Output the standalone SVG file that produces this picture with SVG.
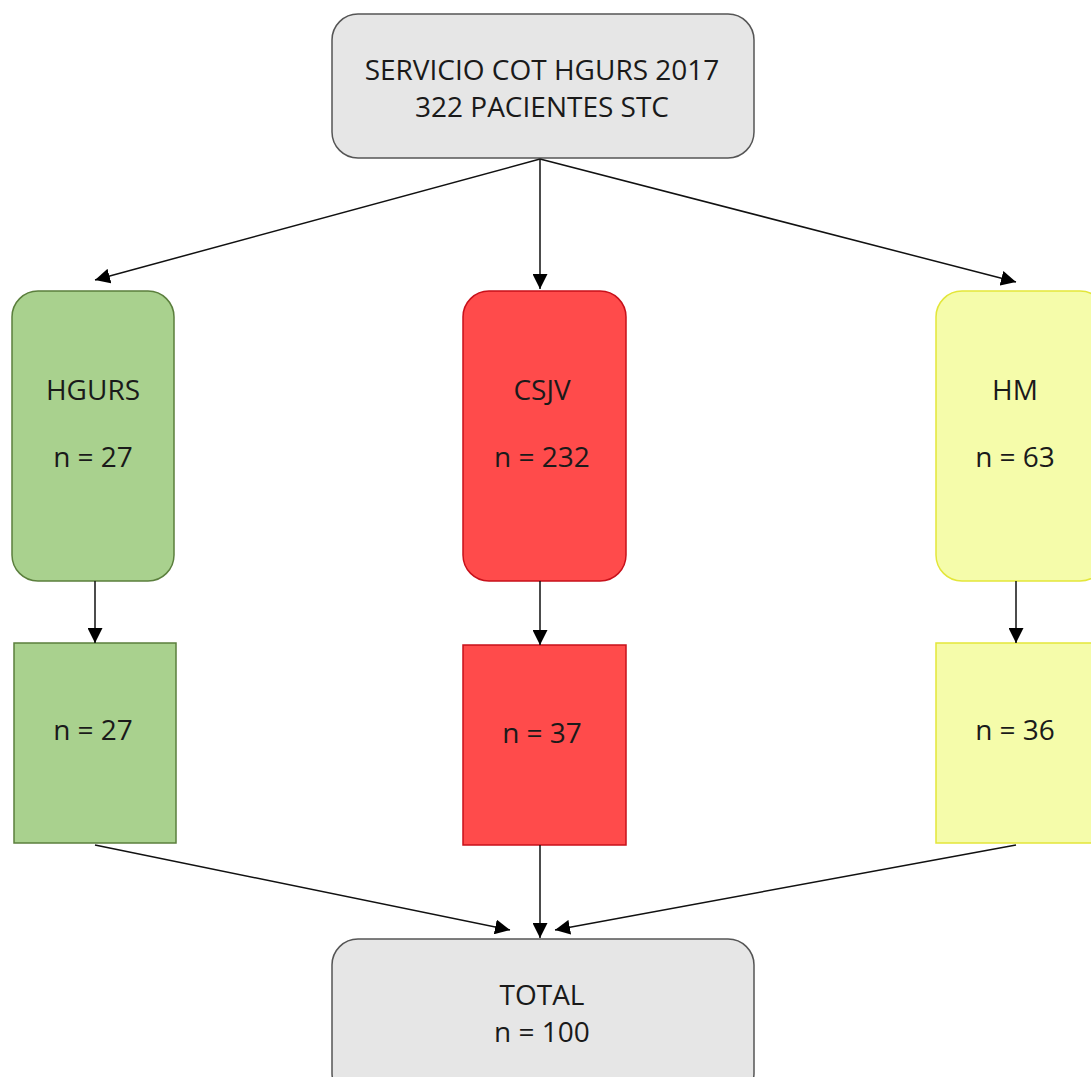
<svg xmlns="http://www.w3.org/2000/svg" width="1091" height="1077" viewBox="0 0 1091 1077">
<style>
text{font-family:"Open Sans","Liberation Sans",sans-serif;font-size:28px;fill:#1a1a1a;text-anchor:middle}
.grey{fill:#e6e6e6;stroke:#555;stroke-width:1.5}
.green{fill:#a9d18e;stroke:#5b7f3d;stroke-width:1.5}
.red{fill:#ff4b4b;stroke:#c8101a;stroke-width:1.5}
.yellow{fill:#f5fcaa;stroke:#e3e63a;stroke-width:1.5}
.conn line{stroke:#111;stroke-width:1.5;marker-end:url(#ah)}
</style>
<defs>
<marker id="ah" markerUnits="userSpaceOnUse" markerWidth="15" markerHeight="15" viewBox="0 0 15 15" refX="15" refY="7.5" orient="auto">
<path d="M0,0 L15,7.5 L0,15 z" fill="#000"/>
</marker>
</defs>
<rect width="1091" height="1077" fill="#fff"/>
<g id="top"><rect class="grey" x="332" y="14" width="422" height="144" rx="26"/>
<text x="542" y="80">SERVICIO COT HGURS 2017</text><text x="542" y="117">322 PACIENTES STC</text></g>
<g id="hgurs"><rect class="green" x="12" y="291" width="162" height="290" rx="26"/>
<text x="93" y="400">HGURS</text><text x="93" y="467">n = 27</text></g>
<g id="csjv"><rect class="red" x="463" y="291" width="163" height="290" rx="26"/>
<text x="542" y="400">CSJV</text><text x="542" y="467">n = 232</text></g>
<g id="hm"><rect class="yellow" x="936" y="291" width="170" height="290" rx="26"/>
<text x="1015" y="400">HM</text><text x="1015" y="467">n = 63</text></g>
<g id="hgurs2"><rect class="green" x="14" y="643" width="162" height="200"/>
<text x="93" y="740">n = 27</text></g>
<g id="csjv2"><rect class="red" x="463" y="645" width="163" height="200"/>
<text x="542" y="743">n = 37</text></g>
<g id="hm2"><rect class="yellow" x="936" y="643" width="170" height="200"/>
<text x="1015" y="740">n = 36</text></g>
<g id="total"><rect class="grey" x="332" y="939" width="422" height="160" rx="26"/>
<text x="542" y="1005">TOTAL</text><text x="542" y="1042">n = 100</text></g>
<g class="conn" id="connectors">
<line x1="540" y1="159" x2="95" y2="280"/>
<line x1="540" y1="159" x2="540" y2="289"/>
<line x1="540" y1="159" x2="1016" y2="282"/>
<line x1="95" y1="581" x2="95" y2="643"/>
<line x1="540" y1="581" x2="540" y2="645"/>
<line x1="1016" y1="581" x2="1016" y2="643"/>
<line x1="95" y1="845" x2="510" y2="930"/>
<line x1="540" y1="845" x2="540" y2="938"/>
<line x1="1016" y1="845" x2="555" y2="930"/>
</g>
</svg>
